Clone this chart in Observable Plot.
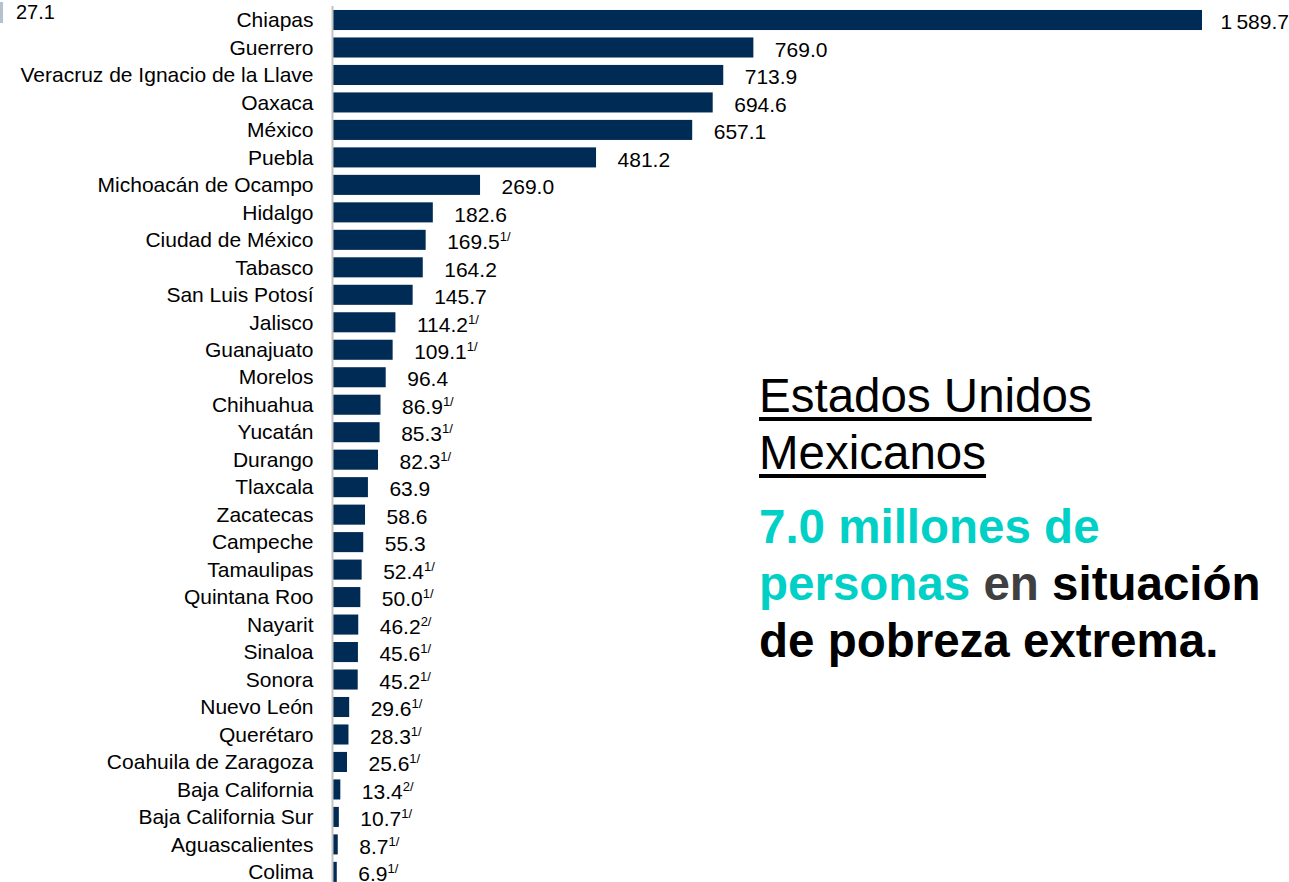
<!DOCTYPE html>
<html>
<head>
<meta charset="utf-8">
<script src="https://cdn.jsdelivr.net/npm/d3@7"></script>
<script src="https://cdn.jsdelivr.net/npm/@observablehq/plot@0.6"></script>
<style>
  html, body { margin: 0; padding: 0; background: #fff; }
  #wrap { position: relative; width: 1289px; height: 882px; overflow: hidden; font-family: "Liberation Sans", Arial, sans-serif; }
  #wrap svg { position: absolute; left: 0; top: 0; }
  .note { position: absolute; left: 759px; top: 367px; font-size: 47.5px; line-height: 57px; color: #000; white-space: nowrap; }
  .note .title { text-decoration: underline; text-decoration-thickness: 3.5px; text-underline-offset: 5px; }
  .note .big { margin-top: 17px; font-weight: bold; }
  .teal { color: #00D0C6; }
  .grey { color: #404040; }
  .stub { position: absolute; left: 0; top: 2px; width: 3px; height: 21px; background: #b4c2d0; }
  .stubLabel { position: absolute; left: 16px; top: 0px; font-size: 20px; line-height: 24px; color: #000; }
</style>
</head>
<body>
<div id="wrap">
  <div class="stub"></div>
  <div class="stubLabel">27.1</div>
  <div class="note">
    <div class="title">Estados Unidos<br>Mexicanos</div>
    <div class="big"><span class="teal">7.0 millones de<br>personas</span> <span class="grey">en</span> situación<br>de pobreza extrema.</div>
  </div>
</div>
<script>
const states = ["Chiapas","Guerrero","Veracruz de Ignacio de la Llave","Oaxaca","México","Puebla","Michoacán de Ocampo","Hidalgo","Ciudad de México","Tabasco","San Luis Potosí","Jalisco","Guanajuato","Morelos","Chihuahua","Yucatán","Durango","Tlaxcala","Zacatecas","Campeche","Tamaulipas","Quintana Roo","Nayarit","Sinaloa","Sonora","Nuevo León","Querétaro","Coahuila de Zaragoza","Baja California","Baja California Sur","Aguascalientes","Colima"];
const values = [1589.7,769.0,713.9,694.6,657.1,481.2,269.0,182.6,169.5,164.2,145.7,114.2,109.1,96.4,86.9,85.3,82.3,63.9,58.6,55.3,52.4,50.0,46.2,45.6,45.2,29.6,28.3,25.6,13.4,10.7,8.7,6.9];
const notes = ["","","","","","","","","1/","","","1/","1/","","1/","1/","1/","","","","1/","1/","2/","1/","1/","1/","1/","1/","2/","1/","1/","1/"];

const data = states.map((s, i) => ({state: s, value: values[i], note: notes[i]}));
const fmt = d3.formatLocale({decimal: ".", thousands: "\u2009", grouping: [3], currency: ["", ""]}).format(",.1f");
const labelText = d => fmt(d.value) + (d.note ? "|" + d.note : "");

const W = 1289, H = 882;
const step = 27.48;
const y0 = 20 - step / 2;

const chart = Plot.plot({
  width: W,
  height: H,
  marginLeft: 333,
  marginRight: 87,
  marginTop: 6,
  marginBottom: 0,
  style: {fontFamily: "'Liberation Sans', Arial, sans-serif", fontSize: "21px", color: "#000", background: "transparent"},
  x: {domain: [0, 1589.7], axis: null},
  y: {domain: states, range: [y0, y0 + step * states.length], round: false, paddingInner: 0.27, paddingOuter: 0.135, label: null},
  marks: [
    Plot.barX(data, {x: "value", y: "state", fill: "#002B55"}),
    Plot.ruleX([0], {dx: -1, stroke: "#c4c4c4", strokeWidth: 2}),
    Plot.axisY({tickSize: 0, tickPadding: 20, fontSize: 21, label: null}),
    Plot.text(data, {filter: d => d.value < 1000, x: "value", y: "state", text: labelText, dx: 21, dy: 2, textAnchor: "start", fontSize: 21, fill: "#000", className: "vlabels"}),
    Plot.text(data, {filter: d => d.value >= 1000, x: "value", y: "state", text: labelText, dx: 18, dy: 2, textAnchor: "start", fontSize: 21, fill: "#000", className: "vlabels"})
  ]
});

d3.select(chart).selectAll("g.vlabels text").each(function() {
  const t = this.textContent;
  const k = t.indexOf("|");
  if (k >= 0) {
    const main = t.slice(0, k), sup = t.slice(k + 1);
    this.textContent = main;
    d3.select(this).append("tspan").attr("font-size", 13).attr("dy", -8).text(sup);
  }
});

document.getElementById("wrap").prepend(chart);
</script>
</body>
</html>
